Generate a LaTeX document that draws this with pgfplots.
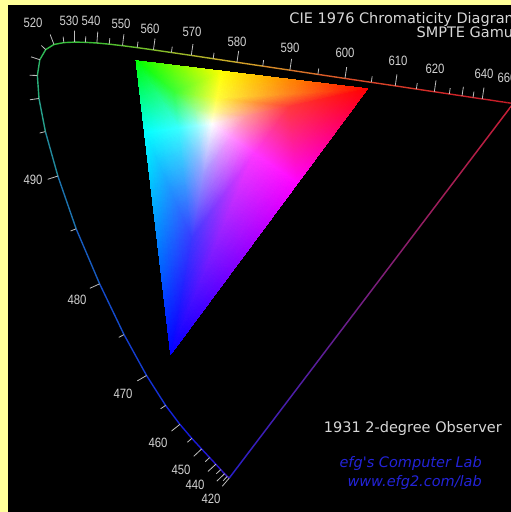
\documentclass[border=0pt]{standalone}
\usepackage{pgfplots}
\pgfplotsset{compat=1.18}
\usepackage{pgfplotstable}
\usepackage{graphicx}
\usepackage{fontspec}
\setmainfont{DejaVu Sans}
\newfontfamily\labfont{Liberation Sans}
\newcommand{\lab}[1]{\scalebox{0.84}[1]{\labfont\fontsize{13.5}{14}\selectfont #1}}
\definecolor{bgyellow}{RGB}{255,255,153}
\definecolor{labgray}{RGB}{210,210,210}
\definecolor{tickgray}{RGB}{190,190,190}
\definecolor{titlegray}{RGB}{215,215,215}
\definecolor{efgblue}{RGB}{35,35,215}
\definecolor{purpA}{RGB}{40,30,200}
\definecolor{purpB}{RGB}{200,30,50}

\pgfplotstableread{
wl u v
420 0.2522 0.0169
425 0.2496 0.0191
430 0.2461 0.0226
435 0.2411 0.0279
440 0.2347 0.0350
445 0.2266 0.0437
450 0.2161 0.0549
455 0.2033 0.0688
460 0.1877 0.0871
465 0.1690 0.1119
470 0.1441 0.1510
475 0.1147 0.2044
480 0.0828 0.2708
485 0.0521 0.3427
490 0.0282 0.4117
495 0.0119 0.4698
500 0.0035 0.5131
505 0.0014 0.5432
510 0.0046 0.5638
515 0.0123 0.5770
520 0.0231 0.5837
525 0.0360 0.5861
530 0.0501 0.5868
535 0.0643 0.5865
540 0.0792 0.5856
545 0.0953 0.5841
550 0.1127 0.5821
555 0.1319 0.5796
560 0.1531 0.5766
565 0.1766 0.5732
570 0.2026 0.5694
575 0.2312 0.5651
580 0.2623 0.5604
585 0.2960 0.5554
590 0.3315 0.5501
595 0.3681 0.5446
600 0.4035 0.5393
605 0.4379 0.5342
610 0.4692 0.5296
615 0.4968 0.5254
620 0.5203 0.5219
625 0.5399 0.5190
630 0.5565 0.5165
635 0.5709 0.5143
640 0.5830 0.5125
645 0.5929 0.5111
650 0.6005 0.5099
655 0.6064 0.5090
660 0.6109 0.5084
665 0.6138 0.5079
670 0.6162 0.5076
680 0.6199 0.5070
690 0.6226 0.5066
700 0.6234 0.5065
}\locus

\pgfplotstableread{
u v a l
0.2522 0.0169 229.8 0.0140
0.2496 0.0191 226.9 0.0078
0.2461 0.0226 224.0 0.0140
0.2411 0.0279 222.6 0.0078
0.2347 0.0350 222.5 0.0140
0.2266 0.0437 223.1 0.0078
0.2161 0.0549 222.9 0.0140
0.2033 0.0688 221.4 0.0078
0.1877 0.0871 218.5 0.0140
0.1690 0.1119 214.3 0.0078
0.1441 0.1510 210.4 0.0140
0.1147 0.2044 207.1 0.0078
0.0828 0.2708 204.4 0.0140
0.0521 0.3427 201.2 0.0078
0.0282 0.4117 197.6 0.0140
0.0119 0.4698 193.7 0.0078
0.0035 0.5131 188.1 0.0120
0.0014 0.5432 178.8 0.0100
0.0046 0.5638 162.1 0.0120
0.0123 0.5770 137.1 0.0078
0.0231 0.5837 111.0 0.0140
0.0360 0.5861 96.5 0.0078
0.0501 0.5868 90.8 0.0150
0.0643 0.5865 87.6 0.0078
0.0792 0.5856 85.6 0.0150
0.0953 0.5841 84.0 0.0078
0.1127 0.5821 83.0 0.0150
0.1319 0.5796 82.2 0.0078
0.1531 0.5766 81.9 0.0150
0.1766 0.5732 81.7 0.0078
0.2026 0.5694 81.6 0.0150
0.2312 0.5651 81.4 0.0078
0.2623 0.5604 81.5 0.0150
0.2960 0.5554 81.5 0.0078
0.3315 0.5501 81.5 0.0150
0.3681 0.5446 81.5 0.0078
0.4035 0.5393 81.5 0.0150
0.4379 0.5342 81.6 0.0078
0.4692 0.5296 81.5 0.0150
0.4968 0.5254 81.4 0.0078
0.5203 0.5219 81.6 0.0150
0.5399 0.5190 81.5 0.0078
0.5565 0.5165 81.4 0.0120
0.5709 0.5143 81.4 0.0078
0.5830 0.5125 81.7 0.0150
}\ticks

% gamut: centre W, inner ring a, middle ring b, outer o (directions G Y R M B C)
\pgfplotstableread{
x y C
0.22967 0.47974 1,1,1
0.20781 0.49795 0.6,1,0.6
0.23255 0.49495 1,1,0.6
0.22967 0.47974 1,1,1
0.23255 0.49495 1,1,0.6
0.27440 0.48987 1,0.6,0.6
0.22967 0.47974 1,1,1
0.27440 0.48987 1,0.6,0.6
0.25432 0.46277 1,0.6,1
0.22967 0.47974 1,1,1
0.25432 0.46277 1,0.6,1
0.21777 0.41347 0.6,0.6,1
0.22967 0.47974 1,1,1
0.21777 0.41347 0.6,0.6,1
0.21026 0.47715 0.6,1,1
0.22967 0.47974 1,1,1
0.21026 0.47715 0.6,1,1
0.20781 0.49795 0.6,1,0.6
0.20781 0.49795 0.6,1,0.6
0.23255 0.49495 1,1,0.6
0.23621 0.51432 1,1,0.22
0.20781 0.49795 0.6,1,0.6
0.23621 0.51432 1,1,0.22
0.17998 0.52112 0.22,1,0.22
0.23255 0.49495 1,1,0.6
0.27440 0.48987 1,0.6,0.6
0.33134 0.50277 1,0.22,0.22
0.23255 0.49495 1,1,0.6
0.33134 0.50277 1,0.22,0.22
0.23621 0.51432 1,1,0.22
0.27440 0.48987 1,0.6,0.6
0.25432 0.46277 1,0.6,1
0.28569 0.44117 1,0.22,1
0.27440 0.48987 1,0.6,0.6
0.28569 0.44117 1,0.22,1
0.33134 0.50277 1,0.22,0.22
0.25432 0.46277 1,0.6,1
0.21777 0.41347 0.6,0.6,1
0.20263 0.32912 0.22,0.22,1
0.25432 0.46277 1,0.6,1
0.20263 0.32912 0.22,0.22,1
0.28569 0.44117 1,0.22,1
0.21777 0.41347 0.6,0.6,1
0.21026 0.47715 0.6,1,1
0.18555 0.47385 0.22,1,1
0.21777 0.41347 0.6,0.6,1
0.18555 0.47385 0.22,1,1
0.20263 0.32912 0.22,0.22,1
0.21026 0.47715 0.6,1,1
0.20781 0.49795 0.6,1,0.6
0.17998 0.52112 0.22,1,0.22
0.21026 0.47715 0.6,1,1
0.17998 0.52112 0.22,1,0.22
0.18555 0.47385 0.22,1,1
0.17998 0.52112 0.22,1,0.22
0.23621 0.51432 1,1,0.22
0.24275 0.54889 1,1,0
0.17998 0.52112 0.22,1,0.22
0.24275 0.54889 1,1,0
0.1303 0.5625 0,1,0
0.23621 0.51432 1,1,0.22
0.33134 0.50277 1,0.22,0.22
0.4330 0.5258 1,0,0
0.23621 0.51432 1,1,0.22
0.4330 0.5258 1,0,0
0.24275 0.54889 1,1,0
0.33134 0.50277 1,0.22,0.22
0.28569 0.44117 1,0.22,1
0.34170 0.40261 1,0,1
0.33134 0.50277 1,0.22,0.22
0.34170 0.40261 1,0,1
0.4330 0.5258 1,0,0
0.28569 0.44117 1,0.22,1
0.20263 0.32912 0.22,0.22,1
0.1756 0.1785 0,0,1
0.28569 0.44117 1,0.22,1
0.1756 0.1785 0,0,1
0.34170 0.40261 1,0,1
0.20263 0.32912 0.22,0.22,1
0.18555 0.47385 0.22,1,1
0.14144 0.46797 0,1,1
0.20263 0.32912 0.22,0.22,1
0.14144 0.46797 0,1,1
0.1756 0.1785 0,0,1
0.18555 0.47385 0.22,1,1
0.17998 0.52112 0.22,1,0.22
0.1303 0.5625 0,1,0
0.18555 0.47385 0.22,1,1
0.1303 0.5625 0,1,0
0.14144 0.46797 0,1,1
}\gamut

\begin{document}
\begin{tikzpicture}
\useasboundingbox (0,0) rectangle (511pt,512pt);
\begin{axis}[
  width=511pt, height=512pt, scale only axis,
  xmin=-0.04745, xmax=0.62052, ymin=-0.02745, ymax=0.64183,
  hide axis,
  colormap={spec}{rgb255=(60,20,190) rgb255=(40,20,210) rgb255=(20,30,220) rgb255=(20,80,200) rgb255=(40,170,130) rgb255=(50,190,60) rgb255=(60,190,50) rgb255=(120,190,40) rgb255=(210,170,40) rgb255=(220,80,40) rgb255=(210,40,40) rgb255=(200,30,40) rgb255=(200,30,40) rgb255=(200,30,40) rgb255=(200,30,40)},
]
\fill[bgyellow] (rel axis cs:0,0) rectangle (rel axis cs:1,1);
\fill[black] (axis cs:-0.03634,-0.05) rectangle (axis cs:0.7,0.63529);

\addplot[patch, shader=interp, mesh/color input=explicit, point meta=explicit symbolic] table[x=x, y=y, meta=C] {\gamut};

\addplot[mesh, line width=1.4pt, point meta=explicit, point meta min=420, point meta max=700] table[x=u, y=v, meta=wl] {\locus};

\shade[left color=purpA, right color=purpB]
  ([shift={(-0.6pt,0.45pt)}]axis cs:0.2522,0.0169) -- ([shift={(-0.6pt,0.45pt)}]axis cs:0.6234,0.5065)
  -- ([shift={(0.6pt,-0.45pt)}]axis cs:0.6234,0.5065) -- ([shift={(0.6pt,-0.45pt)}]axis cs:0.2522,0.0169) -- cycle;

\addplot[quiver={u={\thisrow{l}*cos(\thisrow{a})}, v={\thisrow{l}*sin(\thisrow{a})}}, draw=tickgray, line width=0.8pt] table[x=u, y=v] {\ticks};

\begin{scope}[every node/.style={text=labgray, inner sep=0pt}]
\node at (axis cs:-0.00431,0.61176) {\lab{520}};
\node at (axis cs:0.04275,0.61438) {\lab{530}};
\node at (axis cs:0.07150,0.61438) {\lab{540}};
\node at (axis cs:0.11072,0.61046) {\lab{550}};
\node at (axis cs:0.14863,0.60392) {\lab{560}};
\node at (axis cs:0.20353,0.60000) {\lab{570}};
\node at (axis cs:0.26235,0.58693) {\lab{580}};
\node at (axis cs:0.33163,0.57908) {\lab{590}};
\node at (axis cs:0.40353,0.57255) {\lab{600}};
\node at (axis cs:0.47281,0.56209) {\lab{610}};
\node at (axis cs:0.52118,0.55163) {\lab{620}};
\node at (axis cs:0.58523,0.54510) {\lab{640}};
\node at (axis cs:0.61529,0.53987) {\lab{660}};
\node at (axis cs:-0.00431,0.40654) {\lab{490}};
\node at (axis cs:0.05320,0.24967) {\lab{480}};
\node at (axis cs:0.11333,0.12680) {\lab{470}};
\node at (axis cs:0.15908,0.06275) {\lab{460}};
\node at (axis cs:0.18915,0.02745) {\lab{450}};
\node at (axis cs:0.20745,0.00784) {\lab{440}};
\node at (axis cs:0.22837,-0.01046) {\lab{420}};
\end{scope}

\node[anchor=base east, inner sep=0pt, text=titlegray, font=\fontsize{14.5}{16}\selectfont] at (axis cs:0.63098,0.61046) {CIE 1976 Chromaticity Diagram};
\node[anchor=base east, inner sep=0pt, text=titlegray, font=\fontsize{14.5}{16}\selectfont] at (axis cs:0.63098,0.59346) {SMPTE Gamut};
\node[anchor=base east, inner sep=0pt, text=titlegray, font=\fontsize{14.5}{16}\selectfont] at (axis cs:0.60876,0.07582) {1931 2-degree Observer};
\node[anchor=base east, inner sep=0pt, text=efgblue, font=\fontsize{14.5}{16}\selectfont\itshape] at (axis cs:0.58261,0.03007) {efg\textquotesingle s Computer Lab};
\node[anchor=base east, inner sep=0pt, text=efgblue, font=\fontsize{14.5}{16}\selectfont\itshape] at (axis cs:0.58261,0.00523) {www.efg2.com/lab};
\end{axis}
\end{tikzpicture}
\end{document}
